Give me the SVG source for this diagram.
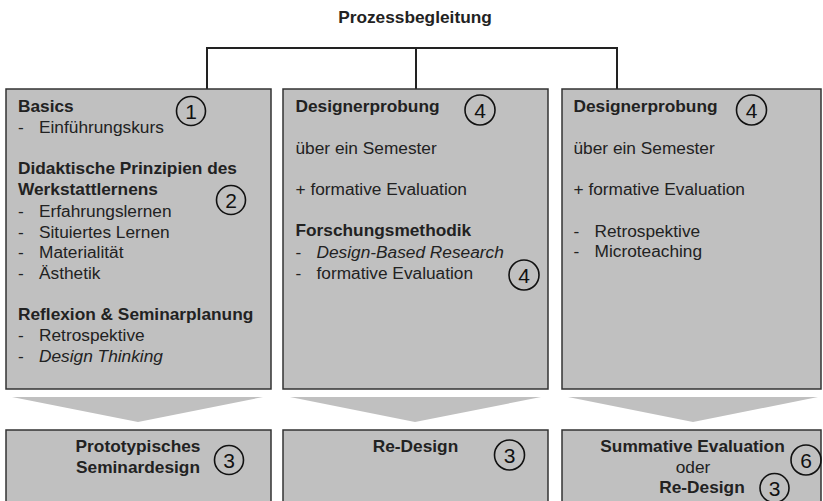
<svg xmlns="http://www.w3.org/2000/svg" width="823" height="501" viewBox="0 0 823 501">
<style>
text{font-family:"Liberation Sans",Arial,sans-serif;font-size:17.3px;fill:#222}
.b{font-weight:bold}
.i{font-style:italic}
.m{text-anchor:middle}
.box{fill:#c0c0c0;stroke:#333;stroke-width:1.5}
.num{fill:none;stroke:#111;stroke-width:1.6}
.n{font-size:21px;text-anchor:middle;fill:#111}
.chev{fill:#c0c0c0}
.con{fill:none;stroke:#222;stroke-width:2}
</style>
<rect width="823" height="501" fill="#fff"/>
<text class="b m" x="415" y="23">Prozessbegleitung</text>
<g id="connectors">
<path class="con" d="M207,89 V48 H617 V89 M416,48 V89"/>
<polygon class="chev" points="12,397 263,397 138,422"/>
<polygon class="chev" points="290,397 541,397 415,422"/>
<polygon class="chev" points="568,397 818,397 693,422"/>
</g>
<g id="box1">
<rect class="box" x="6" y="89" width="265" height="300"/>
<text class="b" x="18" y="112">Basics</text>
<circle class="num" cx="191" cy="111" r="14.5"/><text class="n" x="191" y="118.5">1</text>
<text x="18" y="133">-</text><text x="39" y="133">Einführungskurs</text>
<text class="b" x="18" y="174">Didaktische Prinzipien des</text>
<text class="b" x="18" y="195">Werkstattlernens</text>
<circle class="num" cx="231" cy="200" r="14.5"/><text class="n" x="231" y="207.5">2</text>
<text x="18" y="216.5">-</text><text x="39" y="216.5">Erfahrungslernen</text>
<text x="18" y="237.5">-</text><text x="39" y="237.5">Situiertes Lernen</text>
<text x="18" y="258">-</text><text x="39" y="258">Materialität</text>
<text x="18" y="279">-</text><text x="39" y="279">Ästhetik</text>
<text class="b" x="18" y="320">Reflexion &amp; Seminarplanung</text>
<text x="18" y="340.5">-</text><text x="39" y="340.5">Retrospektive</text>
<text x="18" y="361.5">-</text><text class="i" x="39" y="361.5">Design Thinking</text>
</g>
<g id="box2">
<rect class="box" x="283" y="89" width="265" height="300"/>
<text class="b" x="295.5" y="112">Designerprobung</text>
<circle class="num" cx="480" cy="110" r="15"/><text class="n" x="480" y="117.5">4</text>
<text x="295.5" y="154">über ein Semester</text>
<text x="295.5" y="195">+ formative Evaluation</text>
<text class="b" x="295.5" y="236">Forschungsmethodik</text>
<text x="295.5" y="258">-</text><text class="i" x="316.5" y="258">Design-Based Research</text>
<text x="295.5" y="279">-</text><text x="316.5" y="279">formative Evaluation</text>
<circle class="num" cx="524" cy="275" r="15"/><text class="n" x="524" y="282.5">4</text>
</g>
<g id="box3">
<rect class="box" x="562" y="89" width="259" height="300"/>
<text class="b" x="573.5" y="112">Designerprobung</text>
<circle class="num" cx="751.5" cy="110" r="15"/><text class="n" x="751.5" y="117.5">4</text>
<text x="573.5" y="154">über ein Semester</text>
<text x="573.5" y="195">+ formative Evaluation</text>
<text x="573.5" y="236.5">-</text><text x="594.5" y="236.5">Retrospektive</text>
<text x="573.5" y="257">-</text><text x="594.5" y="257">Microteaching</text>
</g>
<g id="box4">
<rect class="box" x="6" y="430" width="265" height="90"/>
<text class="b m" x="138" y="451.5">Prototypisches</text>
<text class="b m" x="138" y="472.5">Seminardesign</text>
<circle class="num" cx="229" cy="460" r="14.5"/><text class="n" x="229" y="467.5">3</text>
</g>
<g id="box5">
<rect class="box" x="283" y="430" width="265" height="90"/>
<text class="b m" x="415.5" y="451.5">Re-Design</text>
<circle class="num" cx="509.5" cy="455" r="15"/><text class="n" x="509.5" y="462.5">3</text>
</g>
<g id="box6">
<rect class="box" x="562" y="430" width="259" height="90"/>
<text class="b m" x="692.5" y="451.5">Summative Evaluation</text>
<circle class="num" cx="806" cy="460" r="15"/><text class="n" x="806" y="467.5">6</text>
<text class="m" x="693" y="472.5">oder</text>
<text class="b m" x="702" y="493">Re-Design</text>
<circle class="num" cx="774.5" cy="488" r="14.5"/><text class="n" x="774.5" y="495.5">3</text>
</g>
</svg>
